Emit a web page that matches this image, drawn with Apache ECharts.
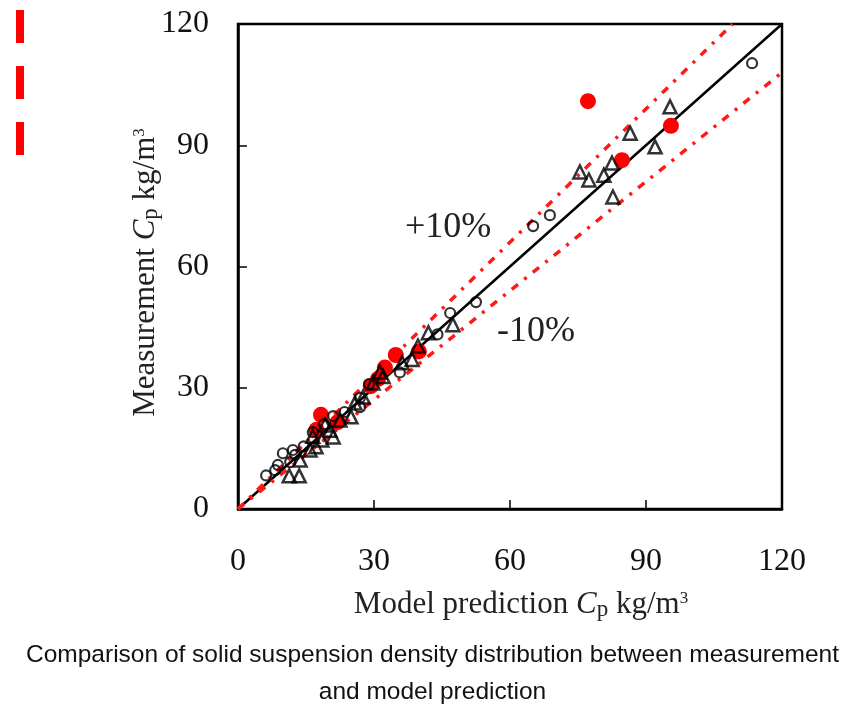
<!DOCTYPE html>
<html>
<head>
<meta charset="utf-8">
<script src="https://cdn.jsdelivr.net/npm/echarts@6/dist/echarts.min.js"></script>
<style>
html,body{margin:0;padding:0;background:#fff;}
#chart{width:865px;height:708px;}
</style>
</head>
<body>
<div id="chart"></div>
<script>
// Axis ticks
var xTicks = [0, 30, 60, 90, 120];
var yTicks = [0, 30, 60, 90, 120];

// Reference lines: 1:1, +10%, -10%
var lineEqual = [[0, 0], [120, 120]];
var linePlus10 = [[0, 0], [109.1, 120]];
var lineMinus10 = [[0, 0], [120, 108]];

// Open circles: [model prediction, measurement]
var circleData = [
  [113.4, 110.3], [68.8, 72.7], [65.1, 70.0], [52.5, 51.2], [46.8, 48.5],
  [44.0, 43.2], [35.7, 33.8], [28.9, 30.9], [26.9, 27.5], [26.9, 25.2],
  [21.0, 23.0], [16.5, 19.0], [12.1, 14.6], [12.6, 13.4], [9.9, 13.8],
  [8.8, 10.9], [8.2, 9.6], [6.2, 8.3], [11.5, 11.6], [14.5, 15.5],
  [19.0, 21.0], [23.5, 24.0]
];

// Open triangles
var triangleData = [
  [95.3, 99.5], [86.5, 93.0], [92.0, 89.6], [75.4, 83.4], [77.4, 81.4],
  [80.7, 82.6], [82.5, 85.6], [82.7, 77.2], [47.4, 45.6], [42.0, 43.6],
  [39.7, 40.3], [38.4, 37.0], [36.2, 36.2], [32.0, 32.8], [31.3, 33.9],
  [29.8, 31.2], [27.6, 27.7], [25.8, 26.2], [24.9, 22.8], [22.5, 22.0],
  [21.0, 17.8], [20.3, 19.5], [19.2, 20.8], [18.5, 17.1], [17.2, 15.4],
  [15.9, 14.6], [13.7, 12.1], [11.3, 8.2], [13.5, 8.2], [16.5, 18.0]
];

// Filled red circles
var redData = [
  [77.2, 100.9], [95.5, 94.8], [84.7, 86.3], [39.9, 39.0], [34.8, 38.1],
  [32.4, 35.0], [30.9, 32.2], [29.3, 30.4], [18.3, 23.3], [17.3, 19.6],
  [22.0, 21.5]
];

var serif = '"Liberation Serif", "Times New Roman", serif';

var chart = echarts.init(document.getElementById('chart'), null, {renderer: 'canvas'});

var nameRich = {
  n: {fontFamily: serif, fontSize: 31, color: '#222'},
  i: {fontFamily: serif, fontSize: 31, fontStyle: 'italic', color: '#222'},
  s: {fontFamily: serif, fontSize: 23, color: '#222', padding: [9, 0, 0, 0]},
  sup: {fontFamily: serif, fontSize: 17, color: '#222', padding: [0, 0, 13, 0]}
};

var axisCommon = {
  type: 'value',
  min: 0,
  max: 120,
  interval: 30,
  axisLine: {show: true, onZero: false, lineStyle: {color: '#000', width: 2.5}},
  axisTick: {show: true, inside: true, length: 9, lineStyle: {color: '#000', width: 1.5}},
  splitLine: {show: false},
  axisLabel: {color: '#111', fontFamily: serif, fontSize: 32}
};

var option = {
  animation: false,
  backgroundColor: '#fff',
  grid: {left: 238, top: 24, right: 83, bottom: 199, show: true, borderColor: '#000', borderWidth: 2.5, backgroundColor: 'transparent'},
  xAxis: Object.assign({}, axisCommon, {
    axisLabel: Object.assign({}, axisCommon.axisLabel, {margin: 37, formatter: function (v) { return xTicks.indexOf(v) >= 0 ? String(v) : ''; }}),
    name: '{n|Model prediction }{i|C}{s|p}{n| kg/m}{sup|3}',
    nameLocation: 'middle',
    nameGap: 80,
    nameMoveOverlap: false,
    nameTextStyle: {padding: [0, 0, 0, 22], rich: nameRich}
  }),
  yAxis: Object.assign({}, axisCommon, {
    axisLabel: Object.assign({}, axisCommon.axisLabel, {margin: 29, formatter: function (v) { return yTicks.indexOf(v) >= 0 ? String(v) : ''; }}),
    name: '{n|Measurement }{i|C}{s|p}{n| kg/m}{sup|3}',
    nameLocation: 'middle',
    nameGap: 76,
    nameMoveOverlap: false,
    nameTextStyle: {padding: [0, 12, 0, 0], rich: nameRich}
  }),
  graphic: [
    {type: 'rect', left: 16, top: 10, shape: {width: 8, height: 33}, style: {fill: '#ff0000'}},
    {type: 'rect', left: 16, top: 66, shape: {width: 8, height: 33}, style: {fill: '#ff0000'}},
    {type: 'rect', left: 16, top: 122, shape: {width: 8, height: 33}, style: {fill: '#ff0000'}},
    {type: 'text', left: 'center', top: 643, style: {text: 'Comparison of solid suspension density distribution between measurement', font: '24.5px "Liberation Sans", Arial, sans-serif', fill: '#111'}},
    {type: 'text', left: 'center', top: 680, style: {text: 'and model prediction', font: '24.5px "Liberation Sans", Arial, sans-serif', fill: '#111'}},
    {type: 'text', left: 405, top: 210, style: {text: '+10%', font: '36px ' + serif, fill: '#222'}},
    {type: 'text', left: 497, top: 314, style: {text: '-10%', font: '36px ' + serif, fill: '#222'}}
  ],
  series: [
    {type: 'line', data: lineEqual, symbol: 'none', lineStyle: {color: '#000', width: 2.5}, z: 2, silent: true},
    {type: 'line', data: linePlus10, symbol: 'none', lineStyle: {color: '#ff1a1a', width: 3.5, type: [8, 8, 3, 8]}, z: 2, silent: true},
    {type: 'line', data: lineMinus10, symbol: 'none', lineStyle: {color: '#ff1a1a', width: 3.5, type: [8, 8, 3, 8]}, z: 2, silent: true},
    {type: 'scatter', data: redData, symbol: 'circle', symbolSize: 16, itemStyle: {color: '#ff0000', opacity: 1}, z: 3},
    {type: 'scatter', data: circleData, symbol: 'circle', symbolSize: 10, itemStyle: {color: 'rgba(255,255,255,0)', borderColor: '#000', borderWidth: 2.2}, z: 4},
    {type: 'scatter', data: triangleData, symbol: 'triangle', symbolSize: 13, itemStyle: {color: 'rgba(255,255,255,0)', borderColor: '#000', borderWidth: 2.5}, z: 5}
  ]
};
chart.setOption(option);
</script>
</body>
</html>
